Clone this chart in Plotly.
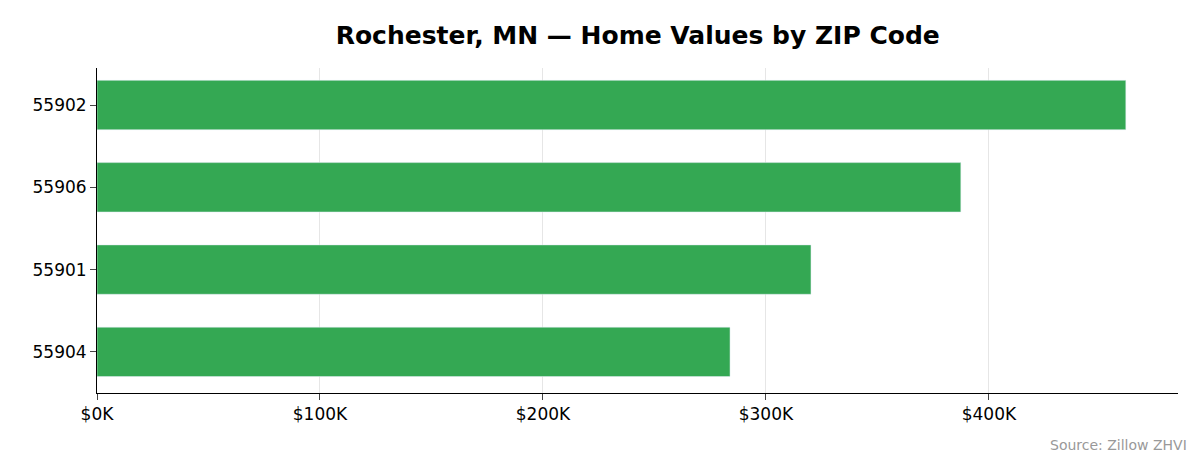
import plotly.graph_objects as go

zips = ["55904", "55901", "55906", "55902"]
values = [283900, 320200, 387400, 461400]
tick_vals = [0, 100000, 200000, 300000, 400000]
tick_text = ["$0K", "$100K", "$200K", "$300K", "$400K"]

fig = go.Figure()
fig.add_trace(go.Bar(x=values, y=zips, orientation="h", marker_color="#34a853",
                     width=0.6, showlegend=False))

fig.update_layout(
    width=1195, height=455,
    margin=dict(l=89, r=25, t=60, b=70, autoexpand=False),
    plot_bgcolor="white", paper_bgcolor="white",
    font=dict(family="DejaVu Sans", size=17, color="black"),
    title=dict(text="<b>Rochester, MN — Home Values by ZIP Code</b>", x=0.527, xanchor="center",
               xref="container", yref="container", y=0.94, yanchor="middle",
               font=dict(size=25)),
    xaxis=dict(range=[0, 484800], tickvals=tick_vals, ticktext=tick_text,
               showgrid=True, gridcolor="rgba(200,200,200,0.45)", layer="above traces",
               showline=True, linecolor="black", ticks="outside", ticklen=6,
               zeroline=False, tickfont=dict(size=17), automargin=False),
    yaxis=dict(type="category", categoryorder="array", categoryarray=zips,
               range=[-0.5, 3.45], showline=True, linecolor="black", ticks="outside",
               ticklen=6, showgrid=False, tickfont=dict(size=17), automargin=False),
    annotations=[dict(text="Source: Zillow ZHVI", xref="paper", yref="paper",
                      x=1.01, y=-0.19, xanchor="right", yanchor="bottom", showarrow=False,
                      font=dict(size=14, color="#999999"))],
)

fig.write_html("out.html")
